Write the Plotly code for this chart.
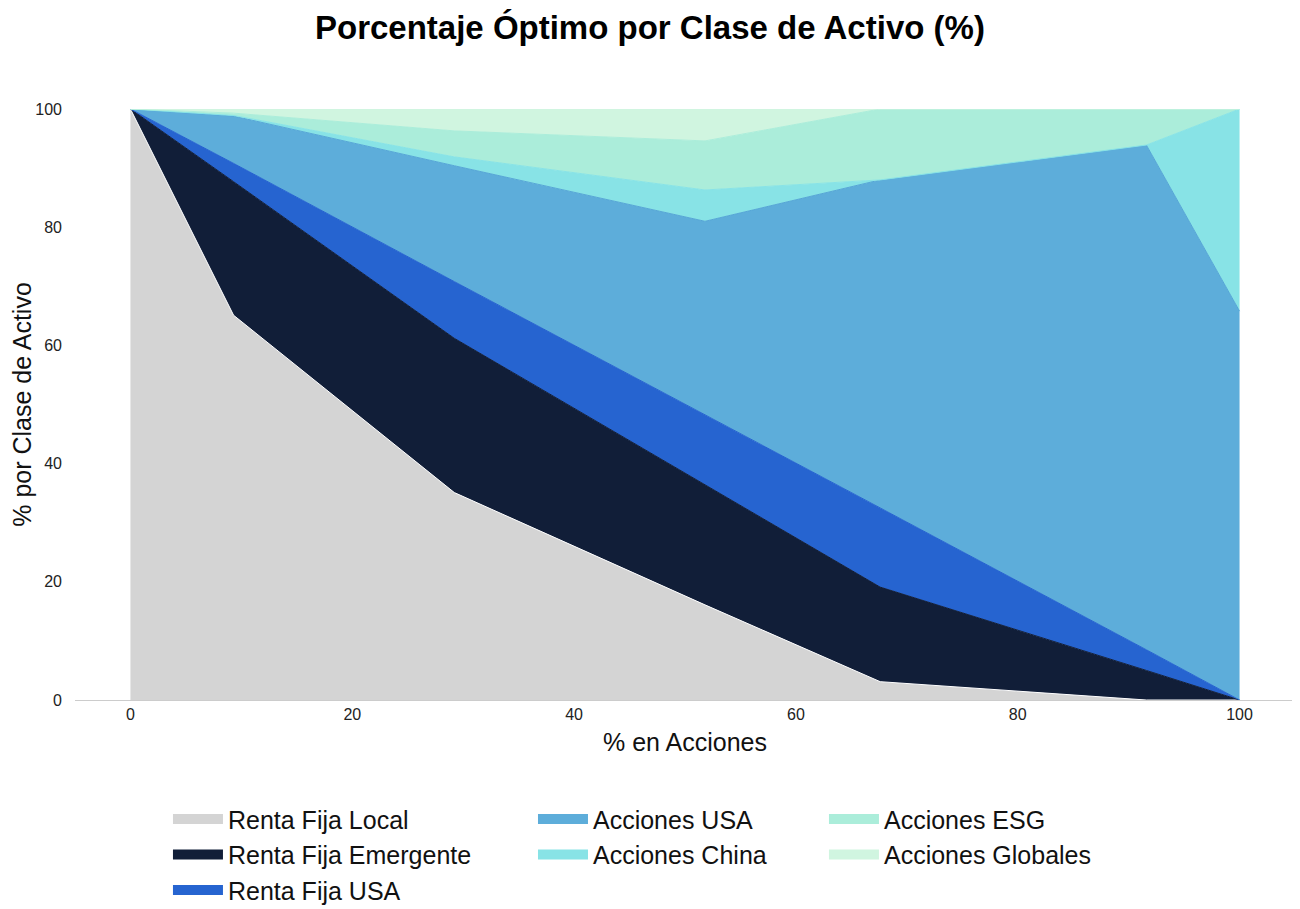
import plotly.graph_objects as go

# % en Acciones (x) at each efficient-frontier point
acciones_pct = [0, 9.3, 29.2, 51.8, 67.6, 91.6, 100]

renta_fija_local = [100, 65.1, 35.1, 16.1, 3.1, 0.0, 0.0]
renta_fija_emergente = [0, 22.6, 26.1, 20.4, 16.0, 5.0, 0.0]
renta_fija_usa = [0, 3.1, 9.6, 11.8, 13.4, 3.5, 0.0]
acciones_usa = [0, 8.0, 19.6, 32.7, 55.5, 85.4, 65.8]
acciones_china = [0, 0.1, 1.5, 5.3, 0.0, 0.0, 34.2]
acciones_esg = [0, 0.4, 4.4, 8.3, 12.0, 6.1, 0.0]
acciones_globales = [0, 0.7, 3.8, 5.4, 0.0, 0.0, 0.0]

names = ["Renta Fija Local", "Renta Fija Emergente", "Renta Fija USA",
         "Acciones USA", "Acciones China", "Acciones ESG", "Acciones Globales"]
series = [renta_fija_local, renta_fija_emergente, renta_fija_usa,
          acciones_usa, acciones_china, acciones_esg, acciones_globales]
colors = ["#D4D4D4", "#111E38", "#2664D0", "#5DADDA", "#88E3E6", "#ABEDDA", "#D0F5E0"]
edge_colors = ["#FFFFFF", "#111E38", "#2664D0", "#55A6D6", "#88E3E6", "#ABEDDA", "#D0F5E0"]
legend_ids = ["legend", "legend", "legend", "legend2", "legend2", "legend3", "legend3"]

FONT = "Arial, Liberation Sans, Helvetica, sans-serif"

fig = go.Figure()
for name, vals, col, ec in zip(names, series, colors, edge_colors):
    fig.add_trace(go.Scatter(
        x=acciones_pct, y=vals, name=name, mode="lines",
        stackgroup="one", fillcolor=col,
        line=dict(color=ec, width=1), showlegend=False,
    ))

# legend entries (swatches)
for name, col, lg in zip(names, colors, legend_ids):
    fig.add_trace(go.Scatter(
        x=[None], y=[None], name=name, mode="lines",
        line=dict(color=col, width=20), legend=lg, legendgroup=name,
        showlegend=True,
    ))

legend_common = dict(
    font=dict(family=FONT, size=25, color="#111111"),
    bgcolor="rgba(0,0,0,0)", orientation="v", yanchor="top",
    tracegroupgap=0, itemwidth=50, traceorder="grouped",
)

LEG_Y = -0.163

fig.update_layout(
    width=1300, height=909,
    paper_bgcolor="white", plot_bgcolor="white",
    margin=dict(l=67, r=13, t=101, b=217, autoexpand=False),
    title=dict(text="<b>Porcentaje Óptimo por Clase de Activo (%)</b>",
               x=0.4938, xref="container", xanchor="center",
               y=1 - 19 / 909, yref="container", yanchor="middle",
               font=dict(family=FONT, size=33, color="black")),
    font=dict(family=FONT, color="#111111"),
    xaxis=dict(range=[-5, 105], tickvals=[0, 20, 40, 60, 80, 100],
               showgrid=False, zeroline=False, showline=True,
               linecolor="#CCCCCC", linewidth=1, ticks="",
               tickfont=dict(size=16, color="#222222"),
               title=dict(text="% en Acciones", font=dict(size=25), standoff=11)),
    yaxis=dict(range=[0, 100], tickvals=[0, 20, 40, 60, 80, 100],
               showgrid=False, zeroline=False, showline=False, ticks="",
               ticklabelstandoff=12,
               tickfont=dict(size=16, color="#222222"),
               title=dict(text="% por Clase de Activo", font=dict(size=25), standoff=22)),
    legend=dict(x=0.0762, y=LEG_Y, **legend_common),
    legend2=dict(x=0.3754, y=LEG_Y, **legend_common),
    legend3=dict(x=0.6139, y=LEG_Y, **legend_common),
)

fig.write_html("out.html")
